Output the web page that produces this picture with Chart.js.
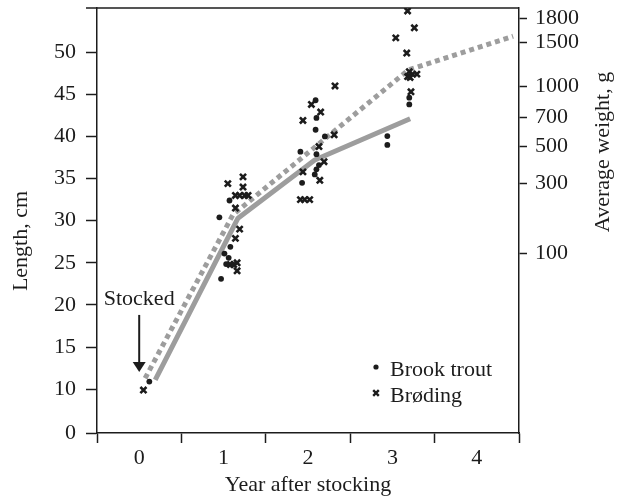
<!DOCTYPE html>
<html>
<head>
<meta charset="utf-8">
<script src="https://cdn.jsdelivr.net/npm/chart.js@4.4.1/dist/chart.umd.min.js"></script>
<style>
  html, body { margin: 0; padding: 0; background: #fff; }
  canvas { display: block; }
</style>
</head>
<body>
<canvas id="growth" width="617" height="501"></canvas>
<script>
// Sampled fish: years after stocking and length (cm)
const brookTroutYears = [0.12,
  1.07, 0.95, 1.08, 1.01, 1.06, 1.03, 0.97,
  2.09, 2.10, 2.09, 2.20, 1.91, 2.10, 2.13, 2.10, 2.08, 1.93,
  3.20, 3.20, 2.94, 2.94];
const brookTroutLengths = [10.9,
  32.4, 30.4, 26.9, 26.1, 25.6, 24.85, 23.1,
  44.3, 42.2, 40.8, 40.0, 38.2, 37.9, 36.6, 36.1, 35.5, 34.5,
  44.6, 43.8, 40.05, 39.0];

const brodingYears = [0.05,
  1.23, 1.05, 1.23, 1.14, 1.19, 1.25, 1.29, 1.14, 1.19, 1.14, 1.08, 1.12, 1.16, 1.16,
  2.32, 2.04, 2.15, 1.94, 2.31, 2.13, 2.19, 1.94, 2.14, 1.91, 1.96, 2.02,
  3.18, 3.26, 3.04, 3.17, 3.20, 3.24, 3.29, 3.18, 3.21, 3.22];
const brodingLengths = [9.9,
  35.2, 34.4, 34.0, 33.0, 33.0, 33.0, 33.0, 31.5, 29.0, 27.9, 24.8, 24.8, 25.0, 24.05,
  46.0, 43.8, 42.9, 41.9, 40.2, 38.8, 37.0, 35.8, 34.8, 32.5, 32.5, 32.5,
  54.9, 52.9, 51.7, 49.9, 47.7, 47.4, 47.4, 47.1, 47.0, 45.3];

// Mean growth curves
const brookTroutCurveYears = [0.19, 1.17, 2.08, 3.21];
const brookTroutCurveLengths = [11.1, 30.3, 37.2, 42.1];
const brodingCurveYears = [0.07, 1.11, 3.19, 4.43];
const brodingCurveLengths = [11.3, 30.7, 47.9, 51.9];

// Axis ticks
const yearLabels = [0, 1, 2, 3, 4];
const lengthTickValues = [4.8, 10, 15, 20, 25, 30, 35, 40, 45, 50];   // lowest tick sits at the axis break
const lengthTickLabels = ['0', '10', '15', '20', '25', '30', '35', '40', '45', '50'];
const weightTickLabels = ['100', '300', '500', '700', '1000', '1500', '1800'];
const weightTickLengths = [26.14, 34.45, 38.85, 42.29, 45.97, 51.19, 54.04]; // length (cm) matching each weight
const lengthMin = 4.8;
const lengthMax = 55.25;

const INK = '#1c1c1c';
const GREY = '#9d9d9d';
const FONT = '"Liberation Serif", "Times New Roman", serif';

const toPoints = (xs, ys) => xs.map((x, i) => ({ x, y: ys[i] }));

const fixedSize = (prop, size) => (scale) => {
  scale[prop] = size;
  scale.paddingTop = 0; scale.paddingBottom = 0;
  scale.paddingLeft = 0; scale.paddingRight = 0;
};

const decorations = {
  id: 'decorations',
  afterDraw(chart) {
    const { ctx, chartArea: a, scales: { x, y } } = chart;
    ctx.save();
    ctx.strokeStyle = INK;
    ctx.fillStyle = INK;

    // top frame line
    ctx.lineWidth = 1.5;
    ctx.beginPath();
    ctx.moveTo(a.left - 11, a.top);
    ctx.lineTo(a.right, a.top);
    ctx.stroke();

    // axis titles
    ctx.font = '22px ' + FONT;
    ctx.textAlign = 'center';
    ctx.textBaseline = 'alphabetic';
    ctx.fillText('Year after stocking', (a.left + a.right) / 2, 491);
    ctx.save();
    ctx.translate(27, 241);
    ctx.rotate(-Math.PI / 2);
    ctx.fillText('Length, cm', 0, 0);
    ctx.restore();
    ctx.save();
    ctx.translate(609, 152);
    ctx.rotate(-Math.PI / 2);
    ctx.fillText('Average weight, g', 0, 0);
    ctx.restore();

    // stocking arrow
    const sx = x.getPixelForValue(0);
    const tipY = y.getPixelForValue(12.05);
    ctx.fillText('Stocked', sx, tipY - 67);
    ctx.lineWidth = 2;
    ctx.beginPath();
    ctx.moveTo(sx, tipY - 57);
    ctx.lineTo(sx, tipY - 9);
    ctx.stroke();
    ctx.beginPath();
    ctx.moveTo(sx - 6.5, tipY - 10);
    ctx.lineTo(sx + 6.5, tipY - 10);
    ctx.lineTo(sx, tipY);
    ctx.closePath();
    ctx.fill();

    // legend
    const lx = a.right - 143;
    const ly = a.bottom - 66;
    ctx.beginPath();
    ctx.arc(lx, ly, 2.6, 0, Math.PI * 2);
    ctx.fill();
    const cy = ly + 26, r = 2.8;
    ctx.lineWidth = 2.4;
    ctx.beginPath();
    ctx.moveTo(lx - r, cy - r); ctx.lineTo(lx + r, cy + r);
    ctx.moveTo(lx - r, cy + r); ctx.lineTo(lx + r, cy - r);
    ctx.stroke();
    ctx.textAlign = 'left';
    ctx.fillText('Brook trout', lx + 14, ly + 9);
    ctx.fillText('Brøding', lx + 14, ly + 35);
    ctx.restore();
  }
};

const tickFont = { family: FONT, size: 22 };

new Chart(document.getElementById('growth'), {
  type: 'scatter',
  data: {
    datasets: [
      {
        label: 'Brook trout',
        data: toPoints(brookTroutYears, brookTroutLengths),
        pointStyle: 'circle',
        pointRadius: 2.9,
        backgroundColor: INK,
        borderWidth: 0,
        order: 0
      },
      {
        label: 'Brøding',
        data: toPoints(brodingYears, brodingLengths),
        pointStyle: 'crossRot',
        pointRadius: 4.3,
        borderColor: INK,
        borderWidth: 2.6,
        order: 0
      },
      {
        label: 'Brook trout growth',
        data: toPoints(brookTroutCurveYears, brookTroutCurveLengths),
        showLine: true,
        pointRadius: 0,
        borderColor: GREY,
        borderWidth: 5,
        borderJoinStyle: 'round',
        order: 1
      },
      {
        label: 'Brøding growth',
        data: toPoints(brodingCurveYears, brodingCurveLengths),
        showLine: true,
        pointRadius: 0,
        borderColor: GREY,
        borderWidth: 5,
        borderDash: [5, 4],
        order: 1
      }
    ]
  },
  options: {
    responsive: false,
    animation: false,
    devicePixelRatio: 1,
    layout: { padding: { top: 8, left: 0, right: 0, bottom: 0 } },
    plugins: { legend: { display: false }, tooltip: { enabled: false } },
    scales: {
      x: {
        type: 'linear',
        min: -0.5,
        max: 4.5,
        afterBuildTicks(scale) {
          const ticks = [];
          yearLabels.forEach(yr => {
            ticks.push({ value: yr - 0.5 });
            ticks.push({ value: yr });
          });
          ticks.push({ value: yearLabels[yearLabels.length - 1] + 0.5 });
          scale.ticks = ticks;
        },
        afterFit: fixedSize('height', 68),
        border: { display: true, color: INK, width: 1.5 },
        grid: {
          drawOnChartArea: false,
          drawTicks: true,
          tickLength: 10,
          tickWidth: 1.5,
          tickColor: (ctx) => (ctx.tick && Number.isInteger(ctx.tick.value)) ? 'rgba(0,0,0,0)' : INK
        },
        ticks: {
          autoSkip: false,
          maxRotation: 0,
          padding: 2,
          color: INK,
          font: tickFont,
          callback: (v) => Number.isInteger(v) ? String(v) : ''
        }
      },
      y: {
        type: 'linear',
        position: 'left',
        min: lengthMin,
        max: lengthMax,
        afterBuildTicks(scale) {
          scale.ticks = lengthTickValues.map(v => ({ value: v }));
        },
        afterFit: fixedSize('width', 97),
        border: { display: true, color: INK, width: 1.5 },
        grid: { drawOnChartArea: false, drawTicks: true, tickLength: 11, tickWidth: 1.5, tickColor: INK },
        ticks: {
          autoSkip: false,
          padding: 10,
          color: INK,
          font: tickFont,
          callback: (v, i) => lengthTickLabels[i]
        }
      },
      y2: {
        type: 'linear',
        position: 'right',
        min: lengthMin,
        max: lengthMax,
        afterBuildTicks(scale) {
          scale.ticks = weightTickLengths.map(v => ({ value: v }));
        },
        afterFit: fixedSize('width', 98),
        border: { display: true, color: INK, width: 1.5 },
        grid: { drawOnChartArea: false, drawTicks: true, tickLength: 8, tickWidth: 1.5, tickColor: INK },
        ticks: {
          autoSkip: false,
          padding: 8,
          color: INK,
          font: tickFont,
          callback: (v, i) => weightTickLabels[i]
        }
      }
    }
  },
  plugins: [decorations]
});
</script>
</body>
</html>
